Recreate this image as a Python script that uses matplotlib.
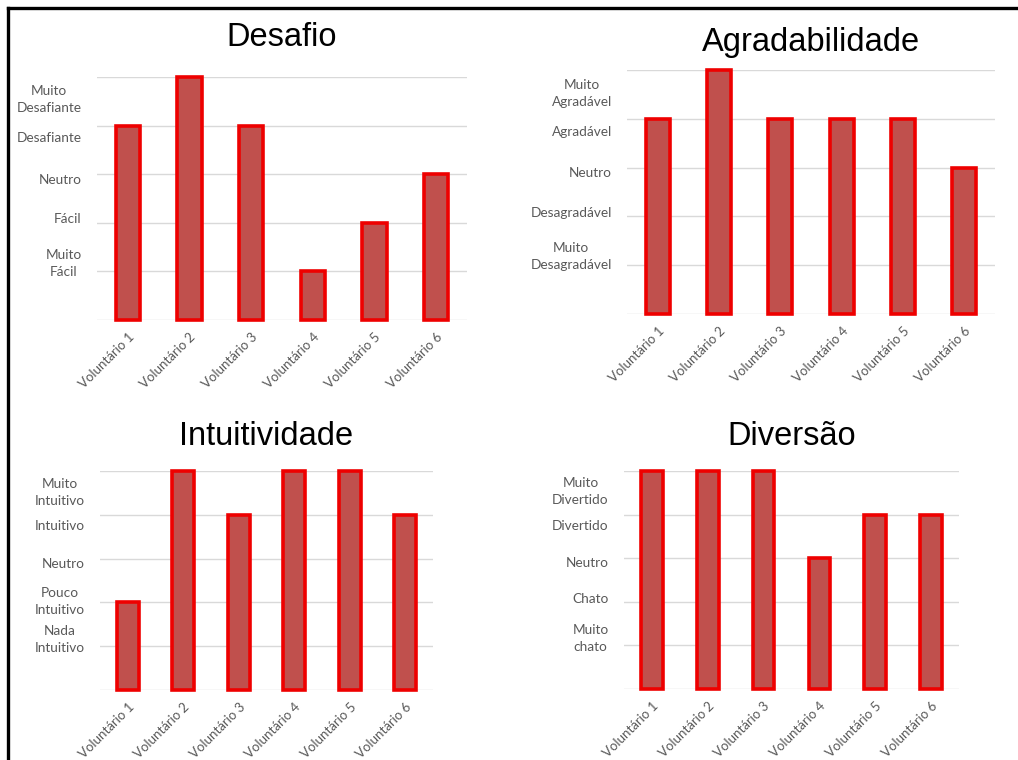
import matplotlib
matplotlib.use("Agg")
import matplotlib.pyplot as plt
from matplotlib.lines import Line2D

volunteers = ["Voluntário 1", "Voluntário 2", "Voluntário 3",
              "Voluntário 4", "Voluntário 5", "Voluntário 6"]

desafio = [4, 5, 4, 1, 2, 3]
agradabilidade = [4, 5, 4, 4, 4, 3]
intuitividade = [2, 5, 4, 5, 5, 4]
diversao = [5, 5, 5, 3, 4, 4]

desafio_labels = ["Muito\nFácil", "Fácil", "Neutro", "Desafiante", "Muito\nDesafiante"]
agradabilidade_labels = ["Muito\nDesagradável", "Desagradável", "Neutro", "Agradável", "Muito\nAgradável"]
intuitividade_labels = ["Nada\nIntuitivo", "Pouco\nIntuitivo", "Neutro", "Intuitivo", "Muito\nIntuitivo"]
diversao_labels = ["Muito\nchato", "Chato", "Neutro", "Divertido", "Muito\nDivertido"]

titles = ["Desafio", "Agradabilidade", "Intuitividade", "Diversão"]

# label positions (between gridlines, as in the original)
label_pos = [1.24, 2.09, 2.91, 3.76, 4.60]
grid_levels = [0, 1, 2, 3, 4, 5]

W, H = 1018, 760
fig = plt.figure(figsize=(W / 100, H / 100), dpi=100)
fig.patch.set_facecolor("white")

def px_rect(l, r, t, b):
    return [l / W, 1 - b / H, (r - l) / W, (b - t) / H]

rects = [px_rect(97, 467, 77, 320), px_rect(627, 995, 70, 314),
         px_rect(100, 433, 471, 690), px_rect(624, 959, 471, 689)]
pads = [22, 14, 19, 19]
datasets = [desafio, agradabilidade, intuitividade, diversao]
labelsets = [desafio_labels, agradabilidade_labels, intuitividade_labels, diversao_labels]

label_font = ["Lato", "DejaVu Sans"]
title_font = ["Liberation Sans Narrow", "Liberation Sans", "DejaVu Sans"]

for rect, title, vals, labs, pad in zip(rects, titles, datasets, labelsets, pads):
    ax = fig.add_axes(rect)
    x = list(range(len(volunteers)))
    bars = ax.bar(x, vals, width=0.39, color="#C0504D", edgecolor="#EE0000",
                  linewidth=2.6, zorder=3)
    for b in bars:
        b.set_clip_on(False)
    ax.set_xlim(-0.5, len(volunteers) - 0.5)
    ax.set_ylim(0, 5)
    ax.set_yticks(grid_levels, minor=True)
    ax.grid(True, which="minor", axis="y", color="#D9D9D9", linewidth=1.0, zorder=0)
    ax.set_yticks(label_pos)
    ax.set_yticklabels(labs, fontsize=9.8, color="#595959", family=label_font,
                       multialignment="center", linespacing=1.5)
    ax.tick_params(axis="y", which="both", length=0, pad=11)
    ax.set_xticks(x)
    ax.set_xticklabels(volunteers, rotation=45, ha="right", rotation_mode="anchor",
                       fontsize=9.5, color="#595959", family=label_font)
    ax.tick_params(axis="x", length=0, pad=8)
    for s in ax.spines.values():
        s.set_visible(False)
    ax.set_title(title, fontsize=23.5, family=title_font, color="black", pad=pad)

# black border lines (top and left)
fig.add_artist(Line2D([8 / W, 1.0], [1 - 8 / H, 1 - 8 / H], color="black", linewidth=2.4,
                      transform=fig.transFigure))
fig.add_artist(Line2D([8 / W, 8 / W], [1 - 8 / H, 0.0], color="black", linewidth=2.4,
                      transform=fig.transFigure))

fig.savefig("out.png", dpi=100, facecolor="white")
